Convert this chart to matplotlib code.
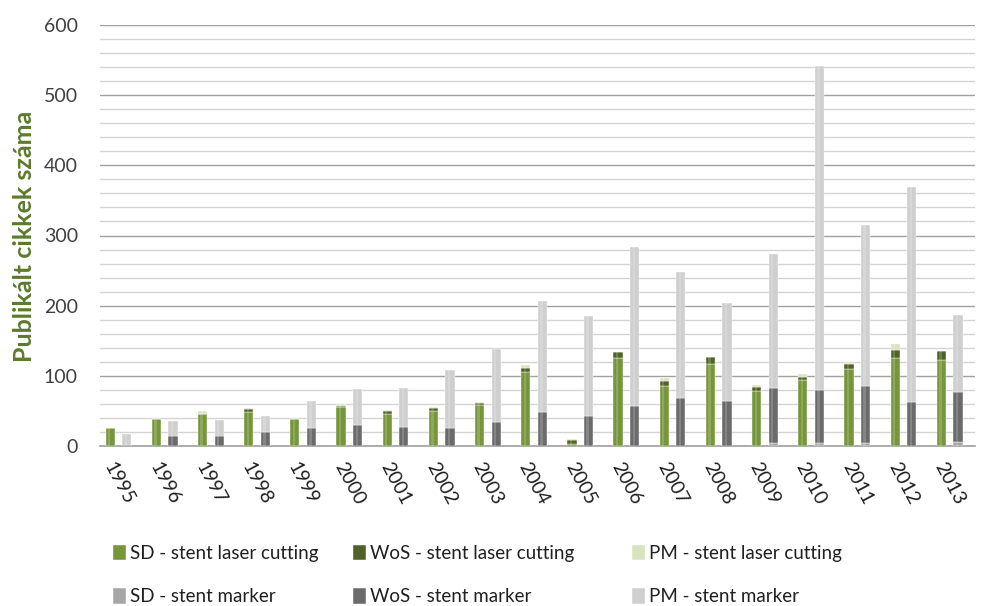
import numpy as np
import matplotlib
matplotlib.use("Agg")
import matplotlib.pyplot as plt
from matplotlib.ticker import MultipleLocator

plt.rcParams['font.family'] = ['Lato', 'DejaVu Sans']

years = [str(y) for y in range(1995, 2014)]

# laser cutting (green stack)
sd_laser = [26, 39, 45, 49, 38, 55, 46, 50, 58, 105, 3, 125, 85, 117, 78, 94, 110, 125, 122]
wos_laser = [0, 0, 0, 4, 0, 2, 4, 4, 3, 6, 5, 9, 7, 10, 6, 5, 7, 12, 14]
pm_laser = [0, 0, 5, 1, 0, 3, 1, 2, 2, 4, 2, 0, 5, 0, 3, 4, 3, 8, 0]

# stent marker (grey stack)
sd_marker = [0, 0, 0, 0, 0, 0, 0, 0, 0, 0, 0, 0, 0, 0, 4, 4, 4, 0, 6]
wos_marker = [2, 14, 14, 20, 26, 30, 27, 25, 34, 48, 43, 57, 68, 64, 79, 76, 81, 62, 71]
pm_marker = [15, 22, 23, 23, 38, 51, 56, 83, 104, 159, 142, 227, 180, 140, 191, 461, 230, 307, 109]

c_sd_l, c_wos_l, c_pm_l = '#76963a', '#4f6228', '#d7e4bd'
c_sd_m, c_wos_m, c_pm_m = '#a6a6a6', '#6b6b6b', '#cfcfcf'

fig = plt.figure(figsize=(9.85, 6.06), dpi=100)
ax = fig.add_axes([100 / 985, 1 - 446 / 606, 875 / 985, 421 / 606])

x = np.arange(len(years))
w = 0.2
off = 0.18


def stack(xpos, layers, colors, labels):
    bottom = np.zeros(len(xpos))
    handles = []
    for vals, col, lab in zip(layers, colors, labels):
        vals = np.array(vals, dtype=float)
        h = ax.bar(xpos, vals, w, bottom=bottom, color=col, edgecolor='#ffffff',
                   linewidth=0.3, label=lab, zorder=3)
        # soft highlight stripe to imitate the bevel look
        ax.bar(xpos - w * 0.1, vals, w * 0.25, bottom=bottom, color='white',
               alpha=0.18, linewidth=0, zorder=4)
        handles.append(h)
        bottom += vals
    return handles


hl = stack(x - off, [sd_laser, wos_laser, pm_laser], [c_sd_l, c_wos_l, c_pm_l],
           ['SD - stent laser cutting', 'WoS - stent laser cutting', 'PM - stent laser cutting'])
hm = stack(x + off, [sd_marker, wos_marker, pm_marker], [c_sd_m, c_wos_m, c_pm_m],
           ['SD - stent marker', 'WoS - stent marker', 'PM - stent marker'])

ax.set_ylim(0, 600)
ax.set_xlim(-0.4, 18.55)
ax.yaxis.set_major_locator(MultipleLocator(100))
ax.yaxis.set_minor_locator(MultipleLocator(20))
ax.grid(axis='y', which='minor', color='#d4d4d4', linewidth=1.0, zorder=0)
ax.grid(axis='y', which='major', color='#a0a0a0', linewidth=1.0, zorder=0)
for s in ['top', 'right', 'left']:
    ax.spines[s].set_visible(False)
ax.spines['bottom'].set_color('#a0a0a0')
ax.spines['bottom'].set_linewidth(1.2)
ax.tick_params(axis='y', which='both', length=0, labelsize=14, labelcolor='#404040', pad=16)
ax.tick_params(axis='x', length=0, labelsize=14, labelcolor='#202020', pad=10)
ax.set_xticks(x)
ax.set_xticklabels(years, rotation=-62, ha='center', va='top')

fig.text(25 / 985, 1 - 236 / 606, 'Publikált cikkek száma', rotation=90, ha='center', va='center',
         fontsize=18, fontweight='bold', color='#5b7a2a')

# legend: three columns, laser cutting on the first row, marker on the second
col_x = [113, 353, 632]
for i, cx in enumerate(col_x):
    hs = [hl[i], hm[i]]
    fig.legend(handles=hs, labels=[h.get_label() for h in hs], loc='center left',
               bbox_to_anchor=(cx / 985, 1 - 575 / 606), frameon=False, fontsize=13.5,
               labelspacing=1.4, handlelength=0.7, handleheight=0.9, handletextpad=0.2,
               borderpad=0, borderaxespad=0, labelcolor='#202020')

fig.savefig('out.png', dpi=100)
